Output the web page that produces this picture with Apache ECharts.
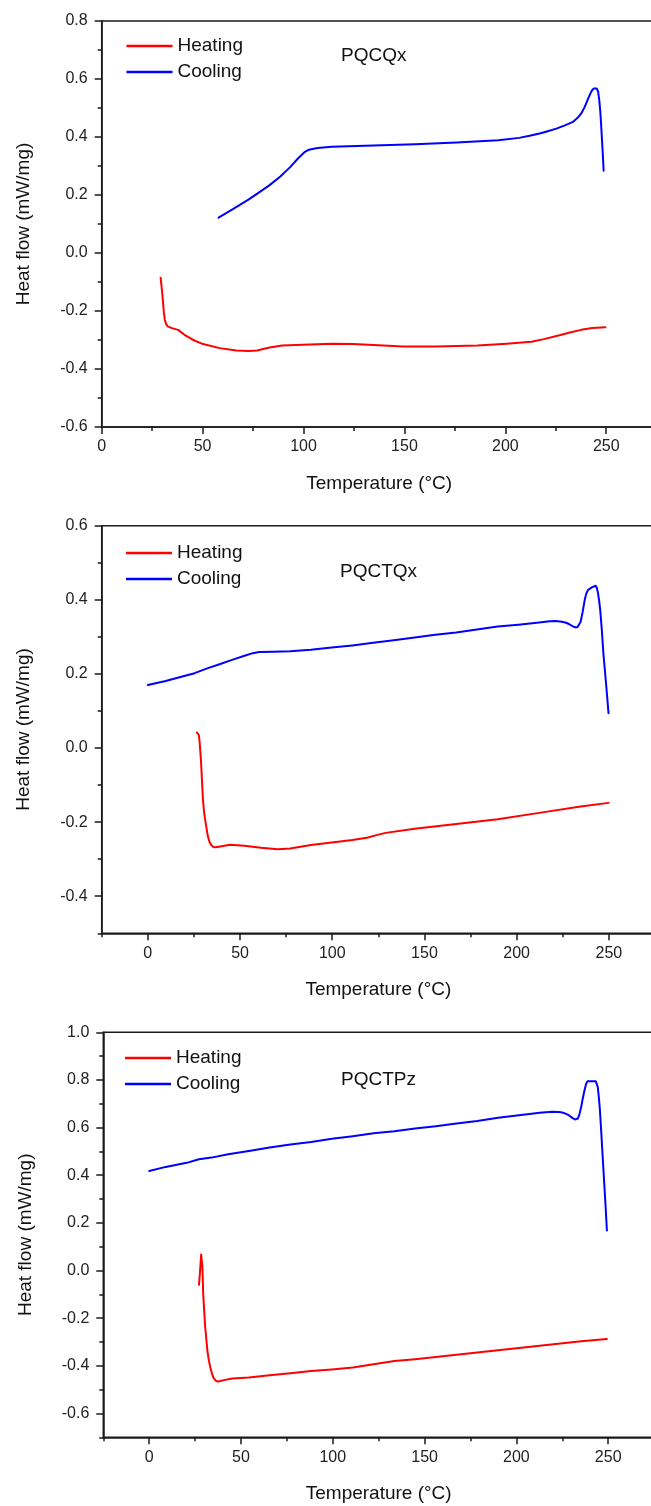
<!DOCTYPE html>
<html><head><meta charset="utf-8">
<script src="https://cdn.jsdelivr.net/npm/echarts@6/dist/echarts.min.js"></script>
<style>html,body{margin:0;padding:0;background:#fff}#c{width:651px;height:1506px}</style>
</head><body><div id="c"></div>
<script>
// ---------- data (Temperature °C, Heat flow mW/mg) ----------
const titles = ['PQCQx', 'PQCTQx', 'PQCTPz'];
const seriesNames = ['Heating', 'Cooling'];

const heating1 = [[29.2,-0.085],[29.8,-0.125],[30.3,-0.162],[30.8,-0.205],[31.3,-0.231],[32,-0.246],[32.7,-0.253],[34.8,-0.259],[37.9,-0.265],[41,-0.282],[45.1,-0.299],[50.2,-0.314],[58.5,-0.328],[66.7,-0.336],[72.9,-0.338],[77,-0.336],[80,-0.331],[83.2,-0.326],[89.4,-0.319],[99.7,-0.316],[114,-0.313],[124.4,-0.314],[134.7,-0.317],[149.1,-0.322],[165.6,-0.322],[186.2,-0.319],[200.6,-0.313],[212.9,-0.306],[219.1,-0.297],[227.3,-0.283],[232,-0.274],[237.6,-0.265],[243,-0.259],[249.6,-0.256]];
const cooling1 = [[57.9,0.122],[65,0.151],[72.9,0.185],[78,0.209],[83.2,0.234],[88.5,0.264],[93.5,0.297],[97,0.324],[100.7,0.349],[102.3,0.355],[103.8,0.358],[107,0.362],[114,0.366],[134.7,0.371],[155.3,0.375],[175.9,0.381],[196.5,0.389],[206.8,0.397],[212,0.404],[217,0.412],[221,0.420],[225.3,0.429],[229.5,0.440],[233.5,0.452],[235.8,0.466],[237.6,0.481],[239.3,0.503],[240.7,0.527],[242,0.548],[242.8,0.559],[243.7,0.567],[244.5,0.571],[245.3,0.567],[246,0.556],[246.5,0.530],[247,0.493],[247.4,0.450],[247.8,0.401],[248.3,0.340],[248.7,0.284]];

const heating2 = [[26.6,0.042],[27.3,0.038],[27.7,0.035],[28.2,0.010],[28.8,-0.032],[29.4,-0.090],[29.9,-0.140],[30.5,-0.172],[31.1,-0.194],[32.6,-0.239],[33.5,-0.254],[34.4,-0.262],[35.5,-0.267],[36.7,-0.268],[40.1,-0.265],[44.6,-0.261],[52.4,-0.264],[61.4,-0.269],[70.4,-0.273],[77.2,-0.271],[88.4,-0.262],[99.7,-0.255],[110.9,-0.248],[118.8,-0.242],[124,-0.235],[129,-0.229],[144.7,-0.218],[167.2,-0.205],[189.7,-0.192],[212.2,-0.175],[234.7,-0.158],[249.8,-0.148]];
const cooling2 = [[0,0.170],[9.7,0.181],[18.7,0.193],[25.4,0.202],[32.2,0.215],[38.9,0.226],[45.7,0.238],[52.4,0.249],[57,0.256],[60.3,0.259],[68.2,0.260],[77.2,0.261],[88.4,0.265],[99.7,0.271],[110.9,0.277],[122.2,0.284],[133.4,0.291],[144.7,0.298],[155.9,0.306],[167.2,0.312],[178.4,0.320],[189.7,0.328],[200.9,0.333],[212.2,0.339],[218,0.342],[221.2,0.343],[224.5,0.341],[226.8,0.338],[228.6,0.334],[230.2,0.329],[231.7,0.326],[232.9,0.326],[233.8,0.331],[234.7,0.341],[235.8,0.368],[236.9,0.400],[237.7,0.416],[238.7,0.427],[241,0.434],[242.8,0.438],[243.5,0.432],[244.1,0.418],[244.7,0.398],[245.3,0.373],[246.2,0.316],[247,0.256],[248.6,0.166],[249.8,0.094]];

const heating3 = [[27.1,-0.060],[27.6,-0.014],[28.3,0.067],[29,0.014],[29.4,-0.098],[30.5,-0.238],[31.7,-0.337],[32.5,-0.378],[33.3,-0.407],[34.2,-0.433],[35.1,-0.452],[36.2,-0.462],[37.3,-0.466],[38.8,-0.464],[40.7,-0.460],[45.2,-0.453],[54.3,-0.449],[65.6,-0.440],[76.9,-0.431],[88.2,-0.422],[99.5,-0.415],[110.9,-0.407],[122.2,-0.393],[133.5,-0.380],[144.8,-0.372],[167.4,-0.353],[190,-0.335],[212.7,-0.316],[235.3,-0.297],[249.3,-0.287]];
const cooling3 = [[0,0.418],[9,0.435],[20.4,0.452],[27.1,0.467],[33.9,0.474],[43,0.488],[54.3,0.502],[65.6,0.516],[76.9,0.529],[88.2,0.540],[99.5,0.553],[110.9,0.564],[122.2,0.576],[133.5,0.585],[144.8,0.596],[156.1,0.606],[167.4,0.617],[178.7,0.628],[190,0.641],[201.4,0.652],[212.7,0.662],[219.5,0.666],[223,0.665],[225.1,0.663],[227,0.658],[228.5,0.652],[230.3,0.642],[231.9,0.634],[232.8,0.633],[233.5,0.638],[234.4,0.658],[235.3,0.687],[236.2,0.724],[237.1,0.757],[237.9,0.782],[238.7,0.795],[243.2,0.795],[243.8,0.787],[244.3,0.771],[244.9,0.728],[245.5,0.673],[246.3,0.570],[247.1,0.463],[248.4,0.294],[249.3,0.168]];

// tick values
const xTicks1 = [0,50,100,150,200,250];
const xMinor1 = [25,75,125,175,225];
const xTicks23 = [0,50,100,150,200,250];
const xMinor23 = [-25,25,75,125,175,225];
const yTicks1 = [-0.6,-0.4,-0.2,0,0.2,0.4,0.6,0.8];
const yMinor1 = [-0.5,-0.3,-0.1,0.1,0.3,0.5,0.7];
const yTicks2 = [-0.4,-0.2,0,0.2,0.4,0.6];
const yMinor2 = [-0.5,-0.3,-0.1,0.1,0.3,0.5];
const yTicks3 = [-0.6,-0.4,-0.2,0,0.2,0.4,0.6,0.8,1.0];
const yMinor3 = [-0.7,-0.5,-0.3,-0.1,0.1,0.3,0.5,0.7,0.9];

// ---------- layout ----------
const FONT = '"Liberation Sans", Arial, sans-serif';
const INK = '#1a1a1a';
const panels = [
  {heat:heating1, cool:cooling1, xMin:0, xMax:275, yMin:-0.6, yMax:0.8, xT:xTicks1, xm:xMinor1, yT:yTicks1, ym:yMinor1,
   grid:{left:101.7, top:21, width:555, height:406}, tPos:{left:341, top:46}, lPos:{left:126.5, top:36}},
  {heat:heating2, cool:cooling2, xMin:-25, xMax:275, yMin:-0.5, yMax:0.6, xT:xTicks23, xm:xMinor23, yT:yTicks2, ym:yMinor2,
   grid:{left:101.7, top:525.7, width:553.3, height:407.6}, tPos:{left:340, top:562}, lPos:{left:126, top:543}},
  {heat:heating3, cool:cooling3, xMin:-25, xMax:275, yMin:-0.7, yMax:1.0, xT:xTicks23, xm:xMinor23, yT:yTicks3, ym:yMinor3,
   grid:{left:103.3, top:1032.3, width:550.8, height:405}, tPos:{left:341, top:1070}, lPos:{left:125, top:1048}}
];

const option = {animation:false, backgroundColor:'#fff', title:[], legend:[], grid:[], xAxis:[], yAxis:[], series:[]};
panels.forEach((p, i) => {
  option.grid.push(Object.assign({show:true, borderColor:INK, borderWidth:1.5, backgroundColor:'transparent',
    containLabel:false, outerBoundsMode:'none'}, p.grid));
  option.title.push({text:titles[i], left:p.tPos.left, top:p.tPos.top, padding:0,
    textStyle:{fontFamily:FONT, fontSize:19, fontWeight:'normal', color:'#111'}});
  option.legend.push({left:p.lPos.left, top:p.lPos.top, orient:'vertical', padding:0, itemWidth:46, itemHeight:2.5, itemGap:6,
    icon:'rect', data:seriesNames, selectedMode:false,
    textStyle:{fontFamily:FONT, fontSize:19, color:'#111', lineHeight:20}});
  option.xAxis.push({gridIndex:i, type:'value', min:p.xMin, max:p.xMax,
    name:'Temperature (°C)', nameLocation:'middle', nameGap:47,
    nameTextStyle:{fontFamily:FONT, fontSize:19, color:'#111'},
    axisLine:{show:true, onZero:false, lineStyle:{color:INK, width:1.5}},
    axisTick:{show:true, inside:false, length:7, lineStyle:{color:INK, width:1.5}, customValues:p.xT},
    axisLabel:{show:true, margin:12, fontFamily:FONT, fontSize:16, color:'#222', customValues:p.xT, formatter:v => String(Math.round(v))},
    splitLine:{show:false}});
  option.xAxis.push({gridIndex:i, type:'value', min:p.xMin, max:p.xMax, position:'bottom',
    axisLine:{show:false, onZero:false},
    axisTick:{show:true, length:4, lineStyle:{color:INK, width:1.5}, customValues:p.xm},
    axisLabel:{show:false}, splitLine:{show:false}});
  option.yAxis.push({gridIndex:i, type:'value', min:p.yMin, max:p.yMax,
    name:'Heat flow (mW/mg)', nameLocation:'middle', nameGap:68,
    nameTextStyle:{fontFamily:FONT, fontSize:19, color:'#111'},
    axisLine:{show:true, onZero:false, lineStyle:{color:INK, width:1.5}},
    axisTick:{show:true, inside:false, length:7, lineStyle:{color:INK, width:1.5}, customValues:p.yT},
    axisLabel:{show:true, margin:14, fontFamily:FONT, fontSize:16, color:'#222', customValues:p.yT, formatter:v => v.toFixed(1)},
    splitLine:{show:false}});
  option.yAxis.push({gridIndex:i, type:'value', min:p.yMin, max:p.yMax, position:'left',
    axisLine:{show:false, onZero:false},
    axisTick:{show:true, length:4, lineStyle:{color:INK, width:1.5}, customValues:p.ym},
    axisLabel:{show:false}, splitLine:{show:false}});
  const xi = i * 2, yi = i * 2;
  option.series.push({name:'Heating', type:'line', xAxisIndex:xi, yAxisIndex:yi, data:p.heat, showSymbol:false, symbol:'none',
    smooth:false, color:'#ff0000', lineStyle:{color:'#ff0000', width:2, join:'round', cap:'round'}});
  option.series.push({name:'Cooling', type:'line', xAxisIndex:xi, yAxisIndex:yi, data:p.cool, showSymbol:false, symbol:'none',
    smooth:false, color:'#0000ff', lineStyle:{color:'#0000ff', width:2, join:'round', cap:'round'}});
});

const chart = echarts.init(document.getElementById('c'), null, {renderer:'canvas'});
chart.setOption(option);
</script>
</body></html>
